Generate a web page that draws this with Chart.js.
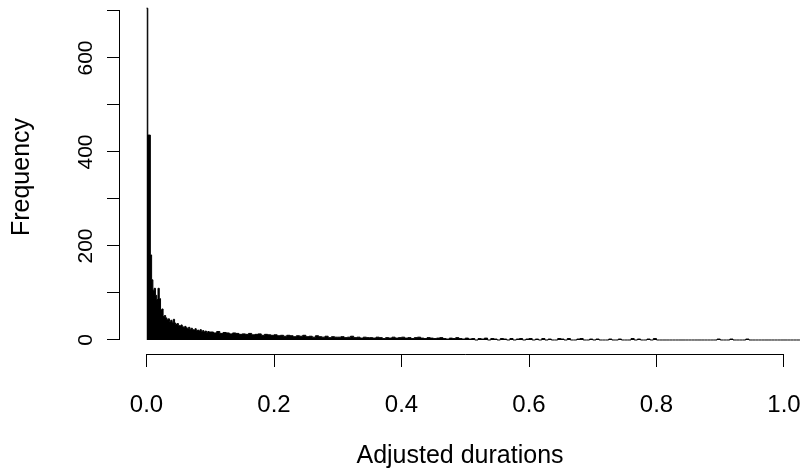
<!DOCTYPE html>
<html>
<head>
<meta charset="utf-8">
<script src="https://cdn.jsdelivr.net/npm/chart.js@4/dist/chart.umd.min.js"></script>
<style>
  html, body { margin: 0; padding: 0; background: #fff; }
  #wrap { width: 800px; height: 472px; overflow: hidden; }
</style>
</head>
<body>
<div id="wrap"><canvas id="durationsChart"></canvas></div>
<script>
// Histogram of adjusted durations: fine bins near zero, coarser bins in the tail
const fineWidth = 0.002;
const fineCounts = [
    706, 436, 436, 181, 128, 106, 110, 95, 86, 110,
    88, 64, 66, 50, 52, 47, 43, 45, 40, 42,
    38, 44, 36, 33, 35, 31, 30, 32, 28, 27,
    29, 26, 24, 27, 23, 25, 22, 21, 24, 20,
    21, 19, 22, 18, 20, 17, 19, 16, 18, 17
];

const tailStart = 0.1;
const tailWidth = 0.005;
const tailCounts = [
    17, 15, 18, 14, 16, 15, 13, 15, 14, 12,   // 0.10
    13, 12, 14, 11, 12, 13, 10, 12, 11, 10,   // 0.15
    11, 9, 10, 8, 10, 9, 7, 9, 8, 10,         // 0.20
    7, 8, 6, 9, 7, 6, 8, 5, 7, 6,             // 0.25
    6, 7, 5, 6, 8, 5, 6, 4, 6, 5,             // 0.30
    5, 4, 6, 5, 3, 5, 4, 6, 4, 5,             // 0.35
    6, 4, 5, 3, 5, 6, 4, 3, 5, 4,             // 0.40
    3, 4, 5, 3, 2, 4, 3, 5, 3, 2,             // 0.45
    4, 2, 3, 0, 3, 2, 4, 0, 3, 2,             // 0.50
    0, 3, 2, 0, 3, 0, 2, 3, 0, 2,             // 0.55
    3, 0, 2, 0, 3, 0, 2, 0, 0, 3,             // 0.60
    2, 0, 3, 0, 0, 2, 3, 0, 0, 2,             // 0.65
    0, 2, 0, 0, 0, 2, 0, 0, 2, 0,             // 0.70
    0, 0, 3, 0, 2, 0, 0, 2, 0, 3,             // 0.75
    0, 0, 0, 0, 0, 0, 0, 0, 0, 0,             // 0.80
    0, 0, 0, 0, 0, 0, 0, 0, 0, 2,             // 0.85
    0, 0, 0, 2, 0, 0, 0, 0, 2, 0,             // 0.90
    0, 0, 0, 0, 0, 0, 0, 0, 0, 0,             // 0.95
    0, 0, 0, 0, 0, 0, 0, 0                    // 1.00
];
const histEnd = 1.04;

const xTickValues = [0, 0.2, 0.4, 0.6, 0.8, 1.0];
const yTickValues = [0, 100, 200, 300, 400, 500, 600, 700];
const yLabelled = [0, 200, 400, 600];

// left bin edges with their counts, closed by the last edge
const points = [];
fineCounts.forEach((c, i) => points.push({ x: i * fineWidth, y: c }));
tailCounts.forEach((c, i) => points.push({ x: tailStart + i * tailWidth, y: c }));
points.push({ x: histEnd, y: 0 });

Chart.defaults.font.family = "'Liberation Sans', Arial, sans-serif";
Chart.defaults.color = '#000';

// keep the plot region fixed: no extra room reserved for edge labels
function noPadding(s) {
    s.paddingLeft = 0;
    s.paddingRight = 0;
    s.paddingTop = 0;
    s.paddingBottom = 0;
}

// base-graphics style axis lines that only span the first to the last tick
const baseAxes = {
    id: 'baseAxes',
    afterDraw(chart) {
        const { ctx, chartArea, scales: { x, y } } = chart;
        ctx.save();
        ctx.strokeStyle = '#000';
        ctx.lineWidth = 1;
        ctx.beginPath();
        const yb = Math.round(chartArea.bottom) + 0.5;
        ctx.moveTo(x.getPixelForValue(xTickValues[0]), yb);
        ctx.lineTo(x.getPixelForValue(xTickValues[xTickValues.length - 1]), yb);
        const xl = Math.round(chartArea.left) - 0.5;
        ctx.moveTo(xl, y.getPixelForValue(yTickValues[0]));
        ctx.lineTo(xl, y.getPixelForValue(yTickValues[yTickValues.length - 1]));
        ctx.stroke();
        ctx.restore();
    }
};

const ctx = document.getElementById('durationsChart').getContext('2d');
new Chart(ctx, {
    type: 'line',
    data: {
        datasets: [{
            data: points,
            stepped: 'before',
            fill: 'origin',
            backgroundColor: '#000',
            borderColor: '#000',
            borderWidth: 1,
            pointRadius: 0,
            tension: 0
        }]
    },
    options: {
        responsive: true,
        maintainAspectRatio: false,
        animation: false,
        layout: { padding: 0, autoPadding: false },
        plugins: {
            legend: { display: false },
            tooltip: { enabled: false }
        },
        scales: {
            x: {
                type: 'linear',
                min: -0.0416,
                max: 1.0251,
                afterBuildTicks: s => { s.ticks = xTickValues.map(v => ({ value: v })); },
                afterFit: s => { s.height = 118; noPadding(s); },
                border: { display: false },
                grid: { drawOnChartArea: false, drawTicks: true, tickLength: 13, color: '#000', lineWidth: 1 },
                ticks: {
                    autoSkip: false,
                    maxRotation: 0,
                    padding: 24,
                    font: { size: 24 },
                    callback: v => v.toFixed(1)
                },
                title: {
                    display: true,
                    text: 'Adjusted durations',
                    font: { size: 25 },
                    padding: { top: 0, bottom: 1 }
                }
            },
            y: {
                type: 'linear',
                min: -29.8,
                max: 723.4,
                afterBuildTicks: s => { s.ticks = yTickValues.map(v => ({ value: v })); },
                afterFit: s => { s.width = 120; noPadding(s); },
                border: { display: false },
                grid: { drawOnChartArea: false, drawTicks: true, tickLength: 13, color: '#000', lineWidth: 1 },
                ticks: {
                    autoSkip: false,
                    minRotation: 90,
                    maxRotation: 90,
                    crossAlign: 'center',
                    padding: 3,
                    font: { size: 21 },
                    callback: v => yLabelled.includes(v) ? String(v) : ''
                },
                title: {
                    display: true,
                    text: 'Frequency',
                    font: { size: 25 },
                    padding: { top: 7, bottom: 0 }
                }
            }
        }
    },
    plugins: [baseAxes]
});
</script>
</body>
</html>
